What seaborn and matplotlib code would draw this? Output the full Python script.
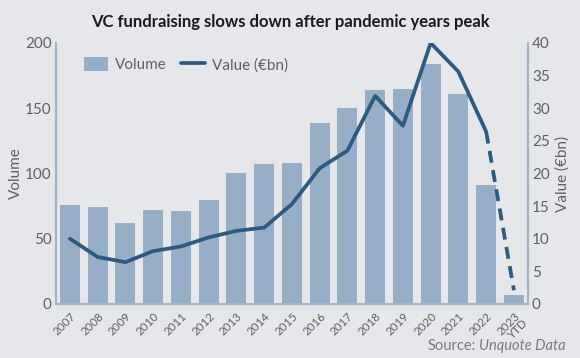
import matplotlib
matplotlib.use("Agg")
import matplotlib.pyplot as plt
import seaborn as sns
import pandas as pd
from matplotlib.lines import Line2D
from matplotlib.patches import Patch

years = ["2007", "2008", "2009", "2010", "2011", "2012", "2013", "2014", "2015",
         "2016", "2017", "2018", "2019", "2020", "2021", "2022", "2023\nYTD"]
volume = [76, 74, 62, 72, 71, 80, 100, 107, 108, 139, 150, 164, 165, 184, 161, 91, 7]
value_bn = [10.0, 7.2, 6.4, 8.1, 8.8, 10.2, 11.2, 11.7, 15.3, 20.8, 23.5, 31.9, 27.3, 40.0, 35.6, 26.4, 2.1]

BG = "#e6e7eb"
BAR = "#97afc6"
LINE = "#2d5b80"
TXT = "#606060"
SPINE = "#a3b6c8"

sns.set_theme(style="white")
plt.rcParams["font.family"] = ["Lato", "DejaVu Sans"]

df = pd.DataFrame({"year": years, "volume": volume, "value": value_bn, "idx": range(len(years))})

fig = plt.figure(figsize=(5.8, 3.58), dpi=100, facecolor=BG)
ax = fig.add_axes([0.0966, 0.151, 0.8134, 0.729])
ax.set_facecolor(BG)
sns.barplot(data=df, x="year", y="volume", color=BAR, saturation=1, width=0.72, linewidth=0, ax=ax)
ax.set_xlim(-0.5, 16.5)
ax.set_ylim(0, 200)
ax.set_yticks([0, 50, 100, 150, 200])
ax.set_xlabel("")
ax.set_ylabel("Volume", fontsize=11, color=TXT, labelpad=2)
ax.tick_params(axis="y", labelsize=11, labelcolor=TXT, length=0, pad=3)
ax.tick_params(axis="x", labelsize=8.3, labelcolor=TXT, length=0, pad=5)
for lab in ax.get_xticklabels():
    lab.set_rotation(45)
    lab.set_ha("right")
    lab.set_rotation_mode("anchor")
    lab.set_linespacing(0.9)

ax2 = ax.twinx()
solid = df.iloc[:16]
dashed = df.iloc[15:]
sns.lineplot(data=solid, x="idx", y="value", color=LINE, linewidth=2.7, ax=ax2)
sns.lineplot(data=dashed, x="idx", y="value", color=LINE, linewidth=2.7, linestyle=(0, (3.2, 2)), ax=ax2)
ax2.set_ylim(0, 40)
ax2.set_xlim(-0.5, 16.5)
ax2.set_yticks([0, 5, 10, 15, 20, 25, 30, 35, 40])
ax2.set_ylabel("Value (€bn)", fontsize=11, color=TXT, labelpad=4)
ax2.tick_params(axis="y", labelsize=11, labelcolor=TXT, length=0, pad=3)

for a in (ax, ax2):
    a.spines["top"].set_visible(False)
    for s in ("left", "right", "bottom"):
        a.spines[s].set_color(SPINE)
        a.spines[s].set_linewidth(1.5)

handles = [Patch(facecolor=BAR, edgecolor="none"), Line2D([0], [0], color=LINE, lw=2.7)]
leg = ax.legend(handles, ["Volume", "Value (€bn)"], loc="upper left", bbox_to_anchor=(0.03, 1.0),
                ncol=2, frameon=False, fontsize=11, handlelength=1.6, handleheight=1.1,
                columnspacing=0.9, handletextpad=0.45)
for t in leg.get_texts():
    t.set_color(TXT)

fig.text(0.5, 0.938, "VC fundraising slows down after pandemic years peak", ha="center", va="center",
         fontsize=12, fontweight="bold", color="#1a1a1a")
fig.text(0.737, 0.015, "Source:", ha="left", va="bottom", fontsize=10.5, color="#7a7a7a")
fig.text(0.975, 0.015, "Unquote Data", ha="right", va="bottom", fontsize=10.5, color="#7a7a7a",
         fontstyle="italic")

fig.savefig("out.png", dpi=100, facecolor=BG)
